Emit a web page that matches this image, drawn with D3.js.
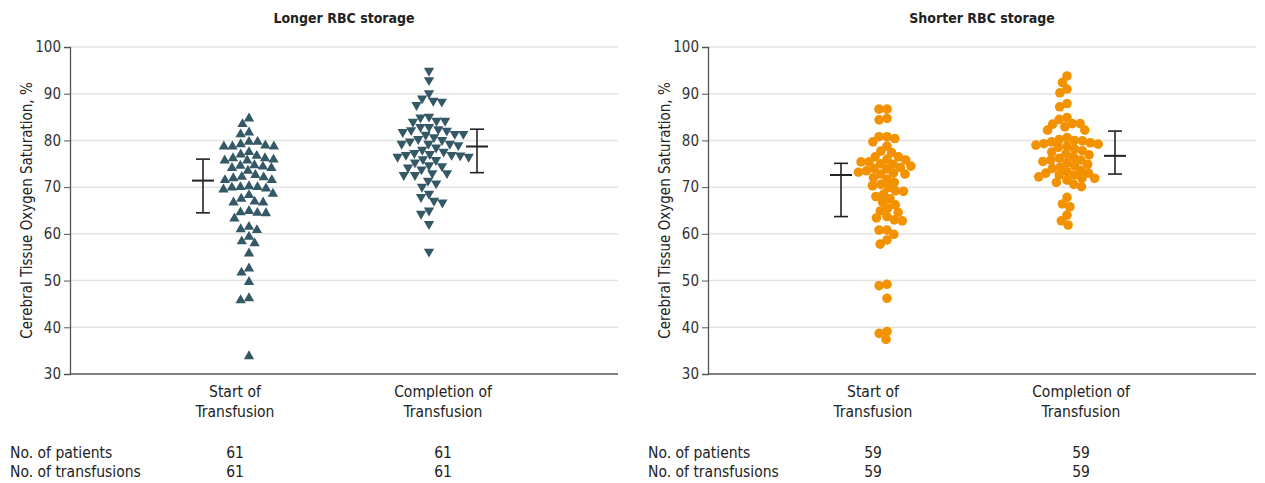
<!DOCTYPE html>
<html>
  <head>
    <script src="https://d3js.org/d3.v7.min.js"></script>
    <style>
      body { margin: 0; background: #fff; }
      svg text { font-family: "Liberation Sans Narrow", "DejaVu Sans Condensed", "Roboto", sans-serif; fill: #222; }
      .title { font-size: 14px; font-weight: bold; }
      .tick text { font-size: 15px; fill: #333; }
      .axis-label { font-size: 15px; }
      .cat-label, .count { font-size: 15.5px; }
    </style>
  </head>
  <body>
    <div id="chart"></div>
    <script>
      // categories and table rows
      const categories = ["Start of Transfusion", "Completion of Transfusion"];
      const panelTitles = ["Longer RBC storage", "Shorter RBC storage"];
      const yTicks = [30, 40, 50, 60, 70, 80, 90, 100];
      const rowLabels = ["No. of patients", "No. of transfusions"];
      const patients = [[61, 61], [59, 59]];
      const transfusions = [[61, 61], [59, 59]];

      // cerebral tissue oxygen saturation, %
      const longerStart = [84.7, 83.5, 81.7, 81.3, 79.2, 79.7, 79.7, 78.7, 78.7, 78.7,
        78.9, 77.5, 75.7, 75.7, 76.2, 76.7, 75.9, 76.2, 74.4, 74.1,
        74.6, 74.7, 74.1, 72.2, 72.1, 71.5, 72.6, 71.5, 71.9, 69.9,
        69.5, 70.0, 70.0, 70.2, 69.7, 68.3, 68.6, 66.7, 66.9, 66.7,
        67.5, 64.6, 64.4, 64.5, 64.9, 63.3, 61.0, 60.8, 61.5, 59.4,
        58.0, 58.4, 55.8, 52.6, 51.7, 49.7, 46.2, 45.8, 33.8, 73.5, 77.0];
      const longerEnd = [94.9, 92.9, 90.1, 88.5, 87.6, 88.3, 89.0, 85.1, 84.2, 84.2,
        84.9, 84.0, 82.9, 82.2, 82.1, 81.4, 81.2, 81.4, 82.4, 82.9,
        80.7, 80.1, 80.3, 79.0, 79.3, 79.3, 79.3, 77.6, 76.9, 76.5,
        76.8, 78.0, 77.3, 76.5, 76.9, 77.1, 75.8, 74.2, 74.7, 74.5,
        73.0, 72.6, 73.0, 72.6, 71.4, 70.8, 70.1, 67.9, 66.7, 67.1,
        68.6, 64.3, 65.0, 62.1, 56.2, 81.8, 79.8, 78.5, 75.3, 73.8, 76.0];
      const shorterStart = [86.7, 86.7, 84.7, 84.4, 79.7, 80.8, 80.8, 80.4, 78.8, 77.7,
        77.4, 76.5, 76.5, 75.4, 74.9, 73.9, 74.0, 75.0, 75.4, 72.8,
        72.0, 73.0, 71.7, 72.8, 70.3, 69.9, 69.2, 68.5, 69.1, 67.5,
        66.2, 65.5, 64.9, 64.6, 63.7, 62.8, 63.0, 63.4, 60.8, 59.9,
        57.8, 58.7, 60.8, 48.9, 49.2, 46.2, 39.1, 38.7, 37.4,
        76.0, 75.8, 74.5, 74.2, 73.5, 73.2, 71.0, 70.6, 68.0, 66.8];
      const shorterEnd = [93.8, 92.4, 91.0, 90.2, 87.9, 87.2, 84.9, 83.5, 83.6, 82.2,
        83.6, 84.5, 82.9, 82.2, 79.7, 79.3, 80.2, 80.6, 79.0, 79.2,
        79.9, 78.5, 78.2, 77.1, 76.5, 75.8, 74.9, 74.0, 74.6, 75.8,
        76.9, 73.3, 72.6, 71.9, 70.1, 71.9, 72.6, 73.0, 66.4, 65.8,
        67.8, 64.0, 62.8, 61.9, 80.0, 79.5, 78.8, 77.8, 77.5, 76.2,
        75.5, 75.2, 74.3, 73.6, 73.0, 72.2, 71.5, 71.0, 70.6];

      // median and interquartile range per group
      const medians = [[71.4, 78.7], [72.6, 76.7]];
      const q1 = [[64.5, 73.1], [63.7, 72.8]];
      const q3 = [[76.0, 82.4], [75.1, 82.0]];

      const seriesData = [[longerStart, longerEnd], [shorterStart, shorterEnd]];

      const margin = { top: 47, left: 70 };
      const plotW = 548, plotH = 327, panelGap = 638;

      const svg = d3.select("#chart").append("svg")
        .attr("width", 1265).attr("height", 483);

      const y = d3.scaleLinear().domain([30, 100]).range([plotH, 0]);
      const x = d3.scalePoint().domain(categories).range([165, 373]);

      // simple beeswarm: place each point as near the centre as possible
      function swarm(vals, d) {
        const pts = vals.map(v => ({ v, py: y(v) })).sort((a, b) => a.py - b.py);
        const placed = [];
        pts.forEach(p => {
          const cands = [0];
          placed.forEach(q => {
            const dy = Math.abs(q.py - p.py);
            if (dy < d) {
              const dx = Math.sqrt(d * d - dy * dy);
              cands.push(q.px - dx, q.px + dx);
            }
          });
          cands.sort((a, b) => Math.abs(a) - Math.abs(b));
          for (const c of cands) {
            if (placed.every(q => (q.px - c) ** 2 + (q.py - p.py) ** 2 >= d * d - 0.01)) {
              p.px = c;
              break;
            }
          }
          placed.push(p);
        });
        return pts;
      }

      panelTitles.forEach((title, pi) => {
        const g = svg.append("g")
          .attr("transform", `translate(${margin.left + pi * panelGap}, ${margin.top})`);

        // gridlines
        g.append("g").selectAll("line")
          .data(yTicks.slice(1))
          .join("line")
          .attr("x1", 0).attr("x2", plotW)
          .attr("y1", d => y(d)).attr("y2", d => y(d))
          .attr("stroke", "#e3e3e3").attr("stroke-width", 1.5);

        // y axis
        const ya = g.append("g")
          .call(d3.axisLeft(y).tickValues(yTicks).tickSize(6).tickPadding(3));
        ya.select(".domain").attr("stroke", "#555").attr("stroke-width", 1.3);
        ya.selectAll(".tick line").attr("stroke", "#555");

        // x axis line
        g.append("line")
          .attr("x1", 0).attr("x2", plotW)
          .attr("y1", plotH).attr("y2", plotH)
          .attr("stroke", "#555").attr("stroke-width", 1.3);

        // title
        g.append("text").attr("class", "title")
          .attr("x", plotW / 2).attr("y", -24)
          .attr("text-anchor", "middle")
          .text(title);

        // y axis label
        g.append("text").attr("class", "axis-label")
          .attr("transform", "rotate(-90)")
          .attr("x", -plotH / 2).attr("y", -38)
          .attr("text-anchor", "middle")
          .text("Cerebral Tissue Oxygen Saturation, %");

        categories.forEach((cat, ci) => {
          const cx = x(cat);
          const side = ci === 0 ? 1 : -1;
          const ptsX = cx + side * 14;
          const errX = cx - side * (ci === 0 ? 32 : 34);

          const pts = swarm(seriesData[pi][ci], pi === 0 ? 8.6 : 8.0);
          const sel = g.append("g").selectAll("path")
            .data(pts)
            .join("path")
            .attr("fill", pi === 0 ? "#355866" : "#f39200");
          if (pi === 0) {
            sel.attr("d", d3.symbol(d3.symbolTriangle).size(46))
              .attr("transform", d => `translate(${ptsX + d.px}, ${d.py}) rotate(${ci === 0 ? 0 : 180})`);
          } else {
            sel.attr("d", d3.symbol(d3.symbolCircle).size(Math.PI * 4.8 * 4.8))
              .attr("transform", d => `translate(${ptsX + d.px}, ${d.py})`);
          }

          // median and IQR bar
          const eb = g.append("g").attr("stroke", "#222").attr("stroke-width", 1.6);
          eb.append("line").attr("x1", errX).attr("x2", errX)
            .attr("y1", y(q1[pi][ci])).attr("y2", y(q3[pi][ci]));
          [q1[pi][ci], q3[pi][ci]].forEach(v => {
            eb.append("line").attr("x1", errX - 7).attr("x2", errX + 7)
              .attr("y1", y(v)).attr("y2", y(v));
          });
          eb.append("line").attr("x1", errX - 11).attr("x2", errX + 11)
            .attr("y1", y(medians[pi][ci])).attr("y2", y(medians[pi][ci]))
            .attr("stroke-width", 2);

          // category label, two lines
          const words = cat.split(" ");
          const lab = g.append("text").attr("class", "cat-label")
            .attr("text-anchor", "middle")
            .attr("x", cx).attr("y", plotH + 23);
          lab.append("tspan").attr("x", cx).text(words.slice(0, 2).join(" "));
          lab.append("tspan").attr("x", cx).attr("dy", 20).text(words.slice(2).join(" "));

          // counts table
          g.append("text").attr("class", "count")
            .attr("text-anchor", "middle")
            .attr("x", cx).attr("y", plotH + 84)
            .text(patients[pi][ci]);
          g.append("text").attr("class", "count")
            .attr("text-anchor", "middle")
            .attr("x", cx).attr("y", plotH + 103)
            .text(transfusions[pi][ci]);
        });

        rowLabels.forEach((r, ri) => {
          g.append("text").attr("class", "count")
            .attr("x", -60).attr("y", plotH + 84 + ri * 19)
            .text(r);
        });
      });
    </script>
  </body>
</html>
